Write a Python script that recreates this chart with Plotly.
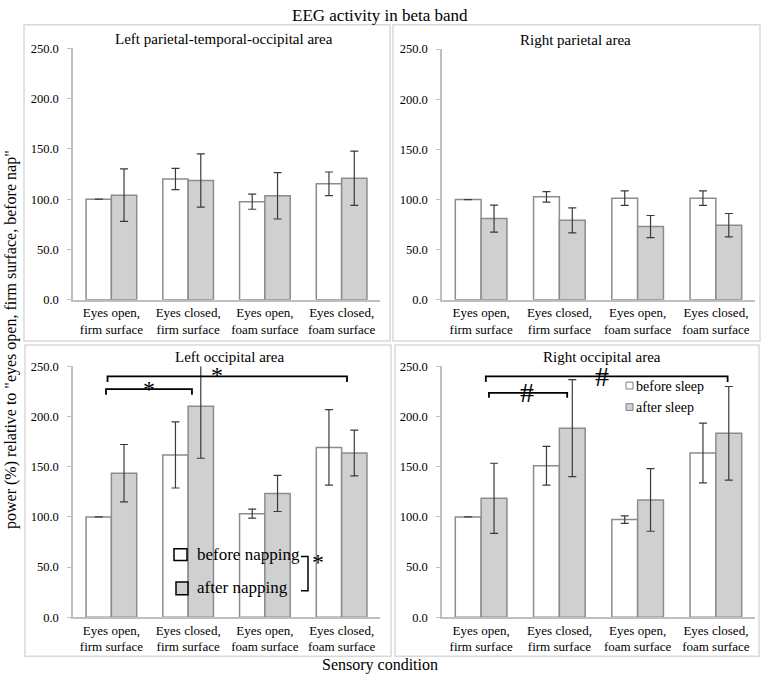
import plotly.graph_objects as go
from plotly.subplots import make_subplots

W, H = 763, 681
categories = ["Eyes open,<br>firm surface", "Eyes closed,<br>firm surface",
              "Eyes open,<br>foam surface", "Eyes closed,<br>foam surface"]
panel_titles = ["Left parietal-temporal-occipital area", "Right parietal area",
                "Left occipital area", "Right occipital area"]

# Left parietal-temporal-occipital
lpto_before = [100.0, 120.0, 97.5, 115.3]
lpto_before_err = [0.0, 10.5, 7.5, 11.7]
lpto_after = [104.0, 118.5, 103.3, 120.8]
lpto_after_err = [26.0, 26.5, 23.0, 27.0]
# Right parietal
rp_before = [100.0, 102.7, 101.4, 101.4]
rp_before_err = [0.0, 5.3, 7.2, 7.2]
rp_after = [81.0, 79.3, 73.1, 74.4]
rp_after_err = [13.5, 12.5, 11.0, 11.7]
# Left occipital
lo_before = [100.0, 161.8, 103.2, 169.3]
lo_before_err = [0.0, 33.0, 4.5, 37.6]
lo_after = [143.6, 210.3, 123.4, 163.7]
lo_after_err = [28.6, 51.8, 18.0, 22.8]
# Right occipital
ro_before = [100.0, 151.0, 97.3, 163.7]
ro_before_err = [0.0, 19.4, 3.8, 29.8]
ro_after = [118.5, 188.5, 116.9, 183.3]
ro_after_err = [35.0, 48.3, 31.2, 46.7]

panels = [
    (lpto_before, lpto_before_err, lpto_after, lpto_after_err),
    (rp_before, rp_before_err, rp_after, rp_after_err),
    (lo_before, lo_before_err, lo_after, lo_after_err),
    (ro_before, ro_before_err, ro_after, ro_after_err),
]

SERIF = "Liberation Serif"
BAR_LINE = "#8c8c8c"
GRAY_FILL = "#d0d0d0"
ERR_COL = "#3a3a3a"
AX_COL = "#bfbfbf"
BOX_COL = "#d9d9d9"


def px(x):
    return x / W


def py(y):
    return 1 - y / H


fig = make_subplots(rows=2, cols=2)

# axis domains (pixel based)
xdoms = [(73, 380), (442, 755), (73, 380), (442, 755)]
ydoms = [(299, 42), (299, 43), (623, 367), (623, 367)]

for i, (b, be, a, ae) in enumerate(panels):
    r, c = i // 2 + 1, i % 2 + 1
    fig.add_trace(go.Bar(x=categories, y=b, marker=dict(color="white", line=dict(color=BAR_LINE, width=1.5)),
                         error_y=dict(type="data", array=be, color=ERR_COL, thickness=1.2, width=4),
                         showlegend=False), row=r, col=c)
    fig.add_trace(go.Bar(x=categories, y=a, marker=dict(color=GRAY_FILL, line=dict(color=BAR_LINE, width=1.5)),
                         error_y=dict(type="data", array=ae, color=ERR_COL, thickness=1.2, width=4),
                         showlegend=False), row=r, col=c)
    xa = "xaxis" if i == 0 else f"xaxis{i+1}"
    ya = "yaxis" if i == 0 else f"yaxis{i+1}"
    fig.layout[xa].update(domain=[px(xdoms[i][0]), px(xdoms[i][1])], showline=True, linecolor=AX_COL,
                          linewidth=1.5, ticks="", tickfont=dict(family=SERIF, size=13, color="black"),
                          showgrid=False, zeroline=False, fixedrange=True)
    fig.layout[ya].update(domain=[py(ydoms[i][0]), py(ydoms[i][1])], range=[0, 250],
                          tickvals=[0, 50, 100, 150, 200, 250], tickformat=".1f",
                          showline=True, linecolor=AX_COL, linewidth=1.5, ticks="outside",
                          ticklen=4, tickcolor=AX_COL, tickfont=dict(family=SERIF, size=12.5, color="black"),
                          showgrid=False, zeroline=False, ticklabelstandoff=6)

shapes = []
# panel boxes
for (x0, y0, x1, y1) in [(24, 18, 390, 341), (393, 18, 760, 341), (25, 345, 391, 663), (395, 345, 759, 663)]:
    shapes.append(dict(type="rect", xref="paper", yref="paper", x0=px(x0), x1=px(x1), y0=py(y1), y1=py(y0),
                       line=dict(color=BOX_COL, width=1.5), layer="below"))

annotations = []
# panel titles
for (t, xc, yc) in [(panel_titles[0], 224, 33), (panel_titles[1], 575, 34), (panel_titles[2], 229, 357),
                    (panel_titles[3], 602, 357)]:
    annotations.append(dict(text=t, xref="paper", yref="paper", x=px(xc), y=py(yc), showarrow=False,
                            font=dict(family=SERIF, size=15, color="black"), xanchor="center", yanchor="middle"))


def bracket(xref, yref, x0, x1, ytop, ytip, width=1.8):
    return dict(type="path", xref=xref, yref=yref,
                path=f"M {x0} {ytip} L {x0} {ytop} L {x1} {ytop} L {x1} {ytip}",
                line=dict(color="black", width=width))


# bottom-left significance brackets (category units / data units)
shapes.append(bracket("x3", "y3", -0.07, 1.05, 227.5, 221.7))
shapes.append(bracket("x3", "y3", -0.05, 3.07, 240.2, 234.4))
annotations.append(dict(text="*", xref="x3", yref="y3", x=0.49, y=228, showarrow=False,
                        font=dict(family=SERIF, size=24, color="black")))
annotations.append(dict(text="*", xref="x3", yref="y3", x=1.37, y=241, showarrow=False,
                        font=dict(family=SERIF, size=24, color="black")))
# bottom-right brackets
shapes.append(bracket("x4", "y4", 0.10, 1.10, 223.6, 218.8))
shapes.append(bracket("x4", "y4", 0.06, 3.15, 240.2, 234.4))
annotations.append(dict(text="#", xref="x4", yref="y4", x=0.59, y=224, showarrow=False,
                        font=dict(family=SERIF, size=28, color="black")))
annotations.append(dict(text="#", xref="x4", yref="y4", x=1.55, y=240, showarrow=False,
                        font=dict(family=SERIF, size=28, color="black")))

# bottom-left legend
shapes.append(dict(type="rect", xref="paper", yref="paper", x0=px(174), x1=px(187), y0=py(565), y1=py(553),
                   fillcolor="white", line=dict(color="black", width=1.5)))
shapes.append(dict(type="rect", xref="paper", yref="paper", x0=px(176), x1=px(188), y0=py(600), y1=py(587),
                   fillcolor=GRAY_FILL, line=dict(color="black", width=1.5)))
annotations.append(dict(text="before napping", xref="paper", yref="paper", x=px(195), y=py(559),
                        xanchor="left", yanchor="middle", showarrow=False,
                        font=dict(family=SERIF, size=17, color="black")))
annotations.append(dict(text="after napping", xref="paper", yref="paper", x=px(195), y=py(593),
                        xanchor="left", yanchor="middle", showarrow=False,
                        font=dict(family=SERIF, size=17, color="black")))
shapes.append(dict(type="path", xref="paper", yref="paper",
                   path=f"M {px(301)} {py(561)} L {px(308)} {py(561)} L {px(308)} {py(596)} L {px(301)} {py(596)}",
                   line=dict(color="black", width=1.5)))
annotations.append(dict(text="*", xref="paper", yref="paper", x=px(318), y=py(582), showarrow=False,
                        font=dict(family=SERIF, size=24, color="black")))

# bottom-right legend
shapes.append(dict(type="rect", xref="paper", yref="paper", x0=px(626), x1=px(633), y0=py(390), y1=py(383),
                   fillcolor="white", line=dict(color="#7f7f7f", width=1)))
shapes.append(dict(type="rect", xref="paper", yref="paper", x0=px(626), x1=px(633), y0=py(412), y1=py(405),
                   fillcolor=GRAY_FILL, line=dict(color="#7f7f7f", width=1)))
annotations.append(dict(text="before sleep", xref="paper", yref="paper", x=px(634), y=py(387),
                        xanchor="left", yanchor="middle", showarrow=False,
                        font=dict(family=SERIF, size=14, color="black")))
annotations.append(dict(text="after sleep", xref="paper", yref="paper", x=px(634), y=py(409),
                        xanchor="left", yanchor="middle", showarrow=False,
                        font=dict(family=SERIF, size=14, color="black")))

# global labels
annotations.append(dict(text="EEG activity in beta band", xref="paper", yref="paper", x=px(380), y=py(9),
                        showarrow=False, font=dict(family=SERIF, size=17, color="black"), yanchor="middle"))
annotations.append(dict(text='power (%) relative to "eyes open, firm surface, before nap"', xref="paper",
                        yref="paper", x=px(11), y=py(340), textangle=-90, showarrow=False,
                        font=dict(family=SERIF, size=16, color="black"), xanchor="center", yanchor="middle"))
annotations.append(dict(text="Sensory condition", xref="paper", yref="paper", x=px(380), y=py(672),
                        showarrow=False, font=dict(family=SERIF, size=16, color="black"), yanchor="middle"))

fig.update_layout(width=W, height=H, margin=dict(l=0, r=0, t=0, b=0), plot_bgcolor="white",
                  paper_bgcolor="white", barmode="group", bargap=0.34, bargroupgap=0,
                  font=dict(family=SERIF, color="black"),
                  shapes=shapes, annotations=annotations, showlegend=False)

fig.write_html("out.html")
